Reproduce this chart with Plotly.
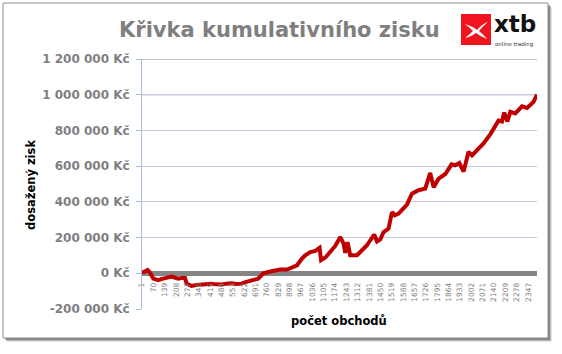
import plotly.graph_objects as go

# ---- data ----
trade = [1, 15, 35, 51, 70, 100, 118, 141, 161, 181, 203, 222, 240, 262, 272, 302, 331, 363,
         392, 424, 452, 485, 513, 545, 574, 606, 635, 667, 707, 738, 762, 788, 811, 841, 882,
         912, 943, 973, 993, 1024, 1054, 1080, 1089, 1115, 1145, 1175, 1206, 1226, 1236, 1250,
         1266, 1307, 1327, 1368, 1388, 1412, 1429, 1449, 1469, 1499, 1520, 1536, 1560, 1582,
         1611, 1641, 1681, 1722, 1752, 1773, 1803, 1844, 1882, 1904, 1929, 1955, 1985, 2006,
         2036, 2076, 2117, 2147, 2167, 2188, 2202, 2221, 2239, 2269, 2310, 2340, 2380, 2401]
profit = [5000, 8000, 18000, 2000, -30000, -39000, -33000, -26000, -22000, -19000, -25000,
          -30000, -26000, -26000, -58000, -71000, -66000, -63000, -60000, -58000, -62000,
          -63000, -58000, -56000, -60000, -58000, -48000, -39000, -30000, 0, 8000, 11000,
          16000, 21000, 21000, 32000, 45000, 82000, 101000, 119000, 125000, 142000, 73000,
          88000, 125000, 153000, 203000, 166000, 114000, 175000, 101000, 101000, 119000,
          157000, 185000, 217000, 178000, 190000, 231000, 250000, 343000, 325000, 334000,
          355000, 385000, 446000, 465000, 474000, 562000, 482000, 530000, 556000, 610000,
          605000, 618000, 570000, 680000, 660000, 689000, 727000, 778000, 820000, 855000,
          850000, 900000, 850000, 904000, 895000, 935000, 926000, 960000, 1000000]

x_tick_labels = [1, 70, 139, 208, 277, 346, 415, 484, 553, 622, 691, 760, 829, 898, 967, 1036,
                 1105, 1174, 1243, 1312, 1381, 1450, 1519, 1588, 1657, 1726, 1795, 1864, 1933,
                 2002, 2071, 2140, 2209, 2278, 2347]
y_tick_values = [-200000, 0, 200000, 400000, 600000, 800000, 1000000, 1200000]
y_tick_labels = ["-200 000 Kč", "0 Kč", "200 000 Kč", "400 000 Kč", "600 000 Kč",
                 "800 000 Kč", "1 000 000 Kč", "1 200 000 Kč"]

title_text = "Křivka kumulativního zisku"
y_title = "dosažený zisk"
x_title = "počet obchodů"

# ---- layout geometry (pixels) ----
WIDTH, HEIGHT = 562, 354
L, R, T, B = 142, 537, 59, 309
W, H = R - L, B - T


def px(x):
    return (x - L) / W


def py(y):
    return (B - y) / H


fig = go.Figure()
fig.add_trace(go.Scatter(x=trade, y=profit, mode="lines",
                         line=dict(color="#C00000", width=4), hoverinfo="skip"))

grey = "#7F7F7F"
shapes = []
# outer frame shadow + frame
for i, a in enumerate([0.10, 0.18, 0.28]):
    off = 4 - i
    shapes.append(dict(type="rect", xref="paper", yref="paper", layer="below",
                       x0=px(3 + off), x1=px(548 + off), y0=py(338 + off), y1=py(3 + off),
                       line=dict(width=0), fillcolor=f"rgba(0,0,0,{a})"))
shapes.append(dict(type="rect", xref="paper", yref="paper", layer="below",
                   x0=px(3), x1=px(548), y0=py(338), y1=py(3),
                   line=dict(color="#8C8C8C", width=1), fillcolor="white"))
# darker upper gridlines
for v in [1000000, 1200000]:
    shapes.append(dict(type="line", xref="paper", yref="y", layer="between",
                       x0=0, x1=1, y0=v, y1=v, line=dict(color="#8C8C8C", width=1)))
# logo
shapes.append(dict(type="rect", xref="paper", yref="paper", layer="above",
                   x0=px(461), x1=px(491), y0=py(45), y1=py(14),
                   line=dict(width=0), fillcolor="#F0141E"))
sw = (f"M {px(465)} {py(24)} Q {px(474)} {py(27)} {px(477)} {py(30)} "
      f"Q {px(482)} {py(24)} {px(488)} {py(22)} Q {px(482)} {py(27)} {px(479)} {py(31)} "
      f"Q {px(484)} {py(35)} {px(487)} {py(39)} Q {px(480)} {py(36)} {px(476)} {py(33)} "
      f"Q {px(471)} {py(37)} {px(465)} {py(38)} Q {px(470)} {py(34)} {px(473)} {py(31)} "
      f"Q {px(469)} {py(27)} {px(465)} {py(24)} Z")
shapes.append(dict(type="path", xref="paper", yref="paper", layer="above", path=sw,
                   line=dict(width=0), fillcolor="white"))

annotations = [
    dict(text=title_text, x=px(279), y=py(30), xref="paper", yref="paper",
         showarrow=False, xanchor="center", yanchor="middle",
         font=dict(family="DejaVu Sans", size=21, color=grey, weight="bold")),
    dict(text="xtb", x=px(492), y=py(39.5), xref="paper", yref="paper",
         showarrow=False, xanchor="left", yanchor="bottom",
         font=dict(family="DejaVu Sans", size=23, color="#111111", weight="bold")),
    dict(text="online trading", x=px(493), y=py(39.5), xref="paper", yref="paper",
         showarrow=False, xanchor="left", yanchor="top",
         font=dict(family="DejaVu Sans", size=5.5, color="#333333")),
    dict(text=y_title, x=px(31), y=py(185), xref="paper", yref="paper", textangle=-90,
         showarrow=False, xanchor="center", yanchor="middle",
         font=dict(family="DejaVu Sans", size=11.5, color="black", weight="bold")),
    dict(text=x_title, x=px(339), y=py(321), xref="paper", yref="paper",
         showarrow=False, xanchor="center", yanchor="middle",
         font=dict(family="DejaVu Sans", size=11.5, color="black", weight="bold")),
]

fig.update_layout(
    width=WIDTH, height=HEIGHT,
    margin=dict(l=L, r=WIDTH - R, t=T, b=HEIGHT - B, pad=0),
    paper_bgcolor="white", plot_bgcolor="rgba(0,0,0,0)",
    showlegend=False, shapes=shapes, annotations=annotations,
    xaxis=dict(range=[1, 2401], tickmode="array", tickvals=x_tick_labels,
               ticktext=[str(v) for v in x_tick_labels], tickangle=-90,
               anchor="free", position=1 / 7, showgrid=False, zeroline=False,
               showline=False, ticks="", ticklabelstandoff=7,
               tickfont=dict(family="DejaVu Sans", size=7.5, color=grey)),
    yaxis=dict(range=[-200000, 1200000], tickmode="array", tickvals=y_tick_values,
               ticktext=y_tick_labels, showgrid=True, gridcolor="#C3CEE4", gridwidth=1,
               zeroline=True, zerolinecolor="#858585", zerolinewidth=5,
               showline=True, linecolor="#A9BBDD", linewidth=1,
               ticks="outside", ticklen=5, tickcolor="#A9BBDD", ticklabelstandoff=4,
               tickfont=dict(family="DejaVu Sans", size=12, color=grey, weight="bold")),
)

fig.write_html("out.html")
